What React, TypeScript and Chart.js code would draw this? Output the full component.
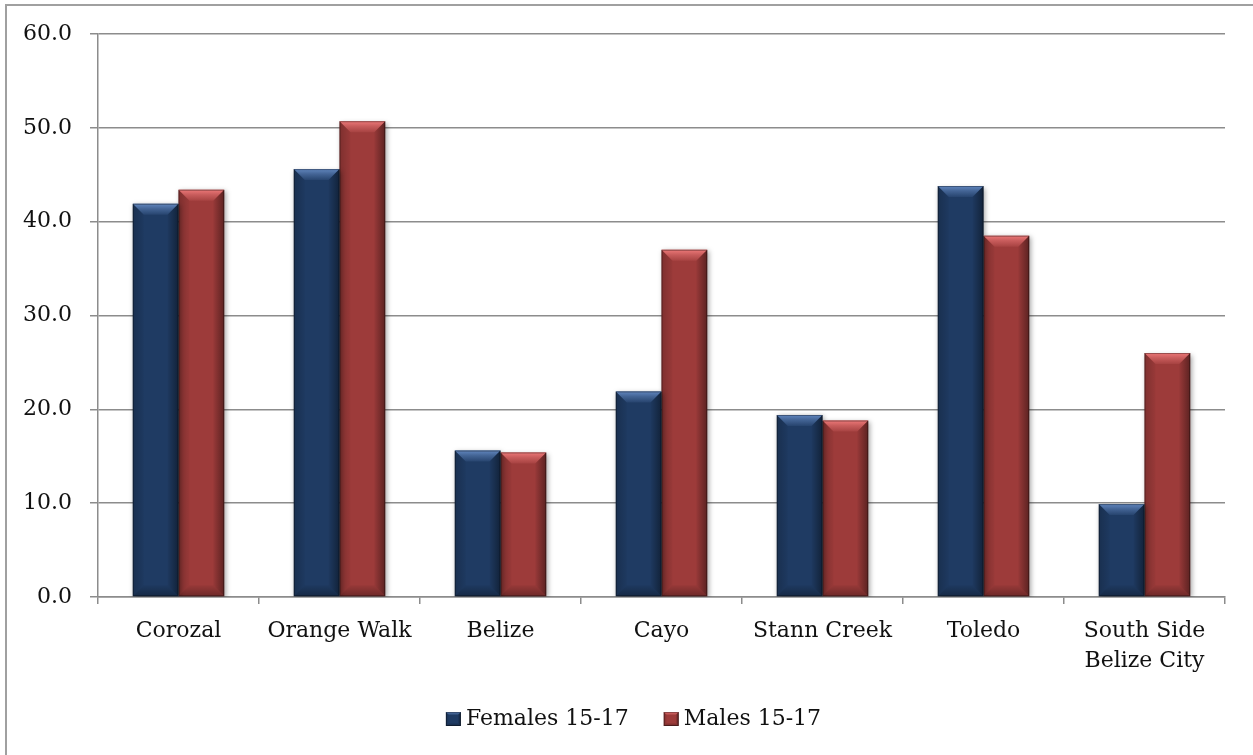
import { useEffect, useRef } from 'react';
import { Chart, registerables } from 'chart.js';

Chart.register(...registerables);

// Districts along the category axis (array entries break onto two lines)
const districts: (string | string[])[] = [
  'Corozal',
  'Orange Walk',
  'Belize',
  'Cayo',
  'Stann Creek',
  'Toledo',
  ['South Side', 'Belize City'],
];

// Rates per district, ages 15-17
const femaleRates = [41.9, 45.6, 15.6, 21.9, 19.4, 43.8, 9.9];
const maleRates = [43.4, 50.7, 15.4, 37.0, 18.8, 38.5, 26.0];

const seriesNames = ['Females 15-17', 'Males 15-17'];
const baseColors = ['#1F3B63', '#9D3B3A'];
const lightColors = ['#6186BE', '#EC7878'];

const yMin = 0;
const yMax = 60;
const yStep = 10;

const FONT = '"DejaVu Serif", serif';
const GRID = '#8c8c8c';

function hexA(hex: string, a: number) {
  const n = parseInt(hex.slice(1), 16);
  return `rgba(${(n >> 16) & 255},${(n >> 8) & 255},${n & 255},${a})`;
}

// Bevelled overlay drawn on top of a filled rectangle
function bevel(
  ctx: CanvasRenderingContext2D,
  left: number,
  top: number,
  right: number,
  bottom: number,
  light: string,
  size: number
) {
  const w = right - left;
  const h = bottom - top;
  if (w <= 0 || h <= 0) return;
  const b = Math.min(size, w / 2, h / 2);
  ctx.save();

  // top face
  let g = ctx.createLinearGradient(0, top, 0, top + b);
  g.addColorStop(0, hexA(light, 1));
  g.addColorStop(0.45, hexA(light, 0.55));
  g.addColorStop(1, hexA(light, 0.12));
  ctx.fillStyle = g;
  ctx.beginPath();
  ctx.moveTo(left, top);
  ctx.lineTo(right, top);
  ctx.lineTo(right - b, top + b);
  ctx.lineTo(left + b, top + b);
  ctx.closePath();
  ctx.fill();

  // left face
  g = ctx.createLinearGradient(left, 0, left + b, 0);
  g.addColorStop(0, 'rgba(0,0,0,0.2)');
  g.addColorStop(1, 'rgba(0,0,0,0.03)');
  ctx.fillStyle = g;
  ctx.beginPath();
  ctx.moveTo(left, top);
  ctx.lineTo(left + b, top + b);
  ctx.lineTo(left + b, bottom - b);
  ctx.lineTo(left, bottom);
  ctx.closePath();
  ctx.fill();

  // right face
  g = ctx.createLinearGradient(right, 0, right - b, 0);
  g.addColorStop(0, 'rgba(0,0,0,0.42)');
  g.addColorStop(1, 'rgba(0,0,0,0.03)');
  ctx.fillStyle = g;
  ctx.beginPath();
  ctx.moveTo(right, top);
  ctx.lineTo(right - b, top + b);
  ctx.lineTo(right - b, bottom - b);
  ctx.lineTo(right, bottom);
  ctx.closePath();
  ctx.fill();

  // bottom face
  g = ctx.createLinearGradient(0, bottom, 0, bottom - b);
  g.addColorStop(0, 'rgba(0,0,0,0.3)');
  g.addColorStop(1, 'rgba(0,0,0,0.04)');
  ctx.fillStyle = g;
  ctx.beginPath();
  ctx.moveTo(left, bottom);
  ctx.lineTo(right, bottom);
  ctx.lineTo(right - b, bottom - b);
  ctx.lineTo(left + b, bottom - b);
  ctx.closePath();
  ctx.fill();

  // outline
  ctx.strokeStyle = 'rgba(0,0,0,0.35)';
  ctx.lineWidth = 1;
  ctx.strokeRect(left + 0.5, top + 0.5, w - 1, h - 1);
  ctx.restore();
}

const bevelPlugin = {
  id: 'bevelBars',
  beforeDatasetsDraw(chart: any) {
    const ctx = chart.ctx as CanvasRenderingContext2D;
    ctx.save();
    ctx.shadowColor = 'rgba(0,0,0,0.35)';
    ctx.shadowBlur = 5;
    ctx.shadowOffsetX = 1.5;
    ctx.shadowOffsetY = 1.5;
  },
  afterDatasetsDraw(chart: any) {
    const ctx = chart.ctx as CanvasRenderingContext2D;
    ctx.restore();
    chart.data.datasets.forEach((_ds: any, di: number) => {
      const meta = chart.getDatasetMeta(di);
      meta.data.forEach((el: any) => {
        const { x, y, base, width } = el.getProps(['x', 'y', 'base', 'width'], true);
        bevel(ctx, x - width / 2, Math.min(y, base), x + width / 2, Math.max(y, base), lightColors[di], 11);
      });
    });
  },
};

// Legend row under the axis labels
const legendPlugin = {
  id: 'bevelLegend',
  afterDraw(chart: any) {
    const ctx = chart.ctx as CanvasRenderingContext2D;
    ctx.save();
    ctx.font = `22px ${FONT}`;
    ctx.textBaseline = 'middle';
    ctx.fillStyle = '#111';
    const box = 14;
    const gapText = 6;
    const gapItem = 35;
    const widths = seriesNames.map((s) => box + gapText + ctx.measureText(s).width);
    const total = widths.reduce((a, b) => a + b, 0) + gapItem * (seriesNames.length - 1);
    const cy = 719;
    let x = chart.width / 2 + 7 - total / 2;
    seriesNames.forEach((name, i) => {
      ctx.fillStyle = baseColors[i];
      ctx.fillRect(x, cy - box / 2, box + 1, box);
      bevel(ctx, x, cy - box / 2, x + box + 1, cy + box / 2, lightColors[i], 3);
      ctx.fillStyle = '#111';
      ctx.fillText(name, x + box + gapText, cy);
      x += widths[i] + gapItem;
    });
    ctx.restore();
  },
};

export default function App() {
  const ref = useRef<HTMLCanvasElement>(null);

  useEffect(() => {
    if (!ref.current) return;
    const chart = new Chart(ref.current, {
      type: 'bar',
      data: {
        labels: districts,
        datasets: [
          { label: seriesNames[0], data: femaleRates, backgroundColor: baseColors[0], borderWidth: 0 },
          { label: seriesNames[1], data: maleRates, backgroundColor: baseColors[1], borderWidth: 0 },
        ],
      },
      options: {
        responsive: false,
        animation: false,
        devicePixelRatio: 1,
        layout: { padding: { top: 34, right: 28, left: 0, bottom: 0 } },
        datasets: { bar: { categoryPercentage: 0.568, barPercentage: 1 } },
        plugins: {
          legend: { display: false },
          tooltip: { enabled: false },
        },
        scales: {
          x: {
            afterFit(scale: any) {
              scale.height = 158;
            },
            grid: {
              offset: true,
              drawOnChartArea: false,
              drawTicks: true,
              tickLength: 7,
              tickColor: GRID,
              lineWidth: 1.5,
            },
            border: { display: true, color: GRID, width: 1.5 },
            ticks: {
              color: '#111',
              padding: 12,
              maxRotation: 0,
              autoSkip: false,
              font: { family: FONT, size: 22, lineHeight: 30 / 22 },
            },
          },
          y: {
            min: yMin,
            max: yMax,
            afterFit(scale: any) {
              scale.width = 98;
            },
            grid: {
              color: GRID,
              lineWidth: 1.5,
              drawTicks: true,
              tickLength: 8,
              tickColor: GRID,
            },
            border: { display: true, color: GRID, width: 1.5 },
            ticks: {
              stepSize: yStep,
              color: '#111',
              padding: 18,
              font: { family: FONT, size: 22 },
              callback: (v: any) => Number(v).toFixed(1),
            },
          },
        },
      },
      plugins: [bevelPlugin, legendPlugin],
    });
    return () => chart.destroy();
  }, []);

  return (
    <div
      style={{
        position: 'fixed',
        left: 0,
        top: 0,
        width: 1253,
        height: 755,
        overflow: 'hidden',
        background: '#fff',
      }}
    >
      <div
        style={{
          position: 'absolute',
          left: 5,
          top: 4,
          width: 1260,
          height: 770,
          border: '2px solid #a0a0a0',
          boxSizing: 'border-box',
        }}
      />
      <canvas
        ref={ref}
        width={1253}
        height={755}
        style={{ position: 'absolute', left: 0, top: 0, display: 'block' }}
      />
    </div>
  );
}
